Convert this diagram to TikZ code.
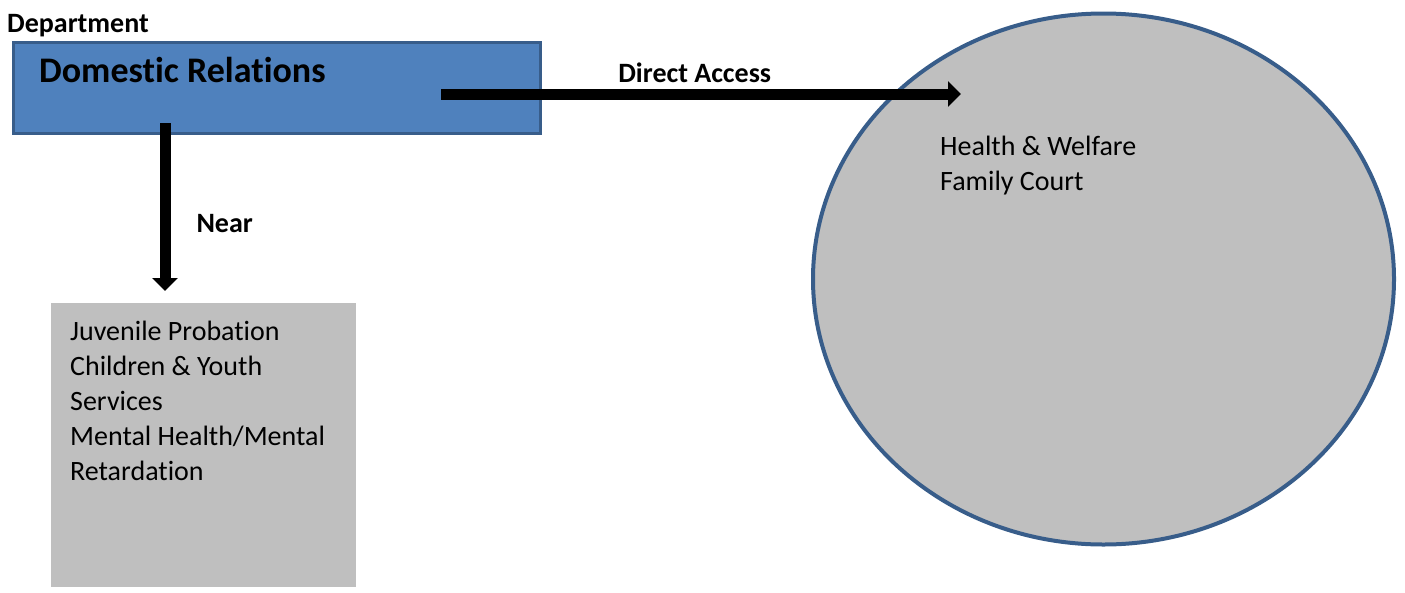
\documentclass[tikz,border=0pt]{standalone}
\usepackage{fontspec}
\setmainfont{Carlito}[Ligatures=NoCommon]
\usetikzlibrary{arrows.meta,shapes.geometric}

\definecolor{deptblue}{HTML}{4F81BD}
\definecolor{deptedge}{HTML}{385D8A}
\definecolor{unitgray}{HTML}{BFBFBF}

\begin{document}
\begin{tikzpicture}[x=1pt, y=-1pt,
  bigarrow/.style={line width=11pt, -{Triangle[width=25pt,length=13pt]}},
  lbl/.style={inner sep=0pt, font=\fontsize{28}{35}\selectfont\bfseries},
  body/.style={inner sep=0pt, align=left, anchor=base west, font=\fontsize{28}{35}\selectfont}]
  \useasboundingbox (0,0) rectangle (1405,592);
  % department box and its units
  \node (dr) [draw=deptedge, fill=deptblue, line width=3pt, minimum width=527pt, minimum height=91pt] at (277,88) {};
  \node (drname) [lbl, anchor=base west, font=\fontsize{36}{43}\selectfont\bfseries] at (39,82) {Domestic Relations};
  \node (dept) [lbl, anchor=base west] at (7,32) {Department};
  \node (near) [fill=unitgray, minimum width=305pt, minimum height=284pt] at (203.5,445) {};
  \node (neartext) [body] at (70,480) {Juvenile Probation\\Children \& Youth\\Services\\Mental Health/Mental\\Retardation};
  \node (court) [ellipse, draw=deptedge, fill=unitgray, line width=4pt, minimum width=581pt, minimum height=531pt] at (1103.5,279) {};
  \node (courttext) [body] at (940,190) {Health \& Welfare\\Family Court};
  % arrow ends
  \coordinate (nearstart) at (165,123);
  \coordinate (nearend) at (165,291);
  \coordinate (accessstart) at (441,94);
  \coordinate (accessend) at (961,94);
  \path[bigarrow]
  (nearstart) edge node [lbl, pos=0.6, right=26pt] {Near} (nearend)
  (accessstart) edge node [lbl, pos=0.488, above=6pt] {Direct Access} (accessend)
;
\end{tikzpicture}
\end{document}
